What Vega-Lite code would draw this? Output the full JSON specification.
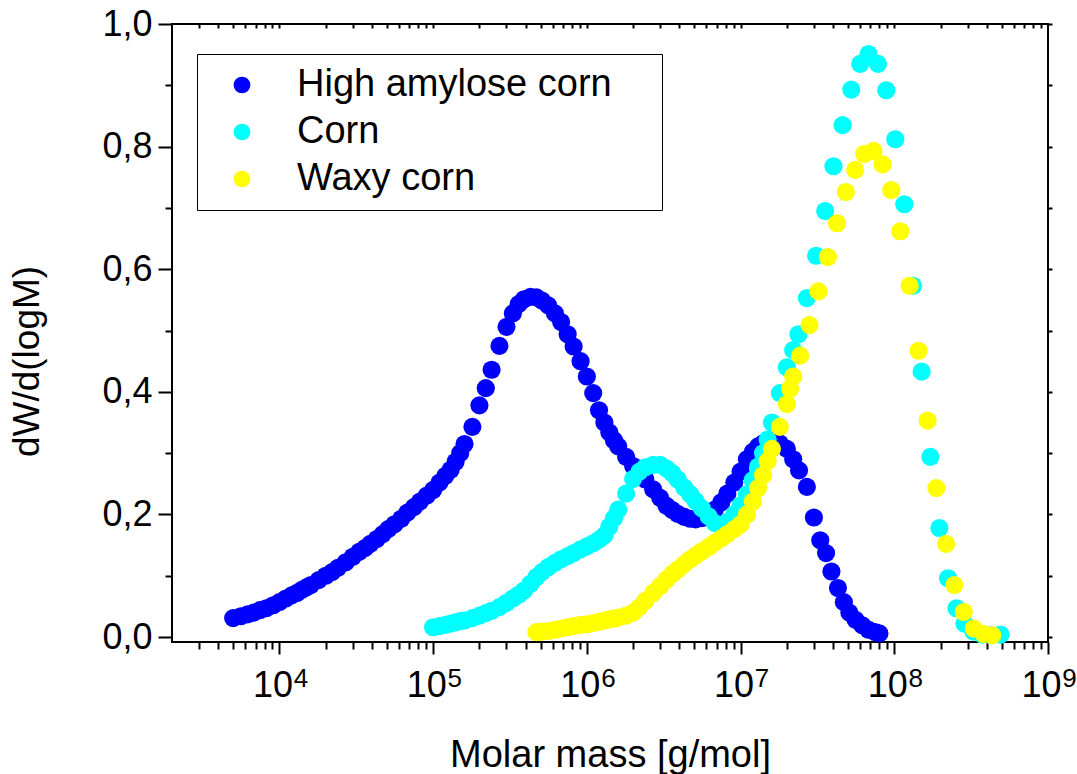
{
"$schema": "https://vega.github.io/schema/vega-lite/v6.json",
"width": 876, "height": 618,
"autosize": {"type": "none"},
"padding": {"left": 172, "top": 24, "right": 29, "bottom": 132},
"background": "white",
"config": {"view": {"stroke": "black", "strokeWidth": 2}, "font": "Liberation Sans",
 "axis": {"grid": false, "domain": false, "labelColor": "black", "tickColor": "black", "tickWidth": 2, "labelFont": "Liberation Sans", "titleFont": "Liberation Sans", "titleColor": "black", "titleFontWeight": "normal", "labelOverlap": false, "labelFlush": false}},
"data": {"values": [
{"s":"High amylose corn","M":5000,"w":0.031},{"s":"High amylose corn","M":5600,"w":0.034},{"s":"High amylose corn","M":6200,"w":0.037},{"s":"High amylose corn","M":6800,"w":0.040},{"s":"High amylose corn","M":7500,"w":0.044},{"s":"High amylose corn","M":8200,"w":0.047},{"s":"High amylose corn","M":9100,"w":0.052},
{"s":"High amylose corn","M":10000,"w":0.057},{"s":"High amylose corn","M":11000,"w":0.063},{"s":"High amylose corn","M":12000,"w":0.068},{"s":"High amylose corn","M":13000,"w":0.072},{"s":"High amylose corn","M":14000,"w":0.077},{"s":"High amylose corn","M":15000,"w":0.081},{"s":"High amylose corn","M":16000,"w":0.085},{"s":"High amylose corn","M":18000,"w":0.093},{"s":"High amylose corn","M":20000,"w":0.100},{"s":"High amylose corn","M":22000,"w":0.106},{"s":"High amylose corn","M":24000,"w":0.113},{"s":"High amylose corn","M":27000,"w":0.122},{"s":"High amylose corn","M":30000,"w":0.131},{"s":"High amylose corn","M":33000,"w":0.139},{"s":"High amylose corn","M":36000,"w":0.145},{"s":"High amylose corn","M":39000,"w":0.152},{"s":"High amylose corn","M":43000,"w":0.160},{"s":"High amylose corn","M":47000,"w":0.168},{"s":"High amylose corn","M":51000,"w":0.176},{"s":"High amylose corn","M":56000,"w":0.184},{"s":"High amylose corn","M":62000,"w":0.193},{"s":"High amylose corn","M":68000,"w":0.203},{"s":"High amylose corn","M":75000,"w":0.212},{"s":"High amylose corn","M":82000,"w":0.221},{"s":"High amylose corn","M":91000,"w":0.231},
{"s":"High amylose corn","M":100000,"w":0.240},{"s":"High amylose corn","M":110000,"w":0.252},{"s":"High amylose corn","M":120000,"w":0.263},{"s":"High amylose corn","M":130000,"w":0.273},{"s":"High amylose corn","M":140000,"w":0.286},{"s":"High amylose corn","M":150000,"w":0.300},{"s":"High amylose corn","M":160000,"w":0.315},{"s":"High amylose corn","M":180000,"w":0.343},{"s":"High amylose corn","M":200000,"w":0.378},{"s":"High amylose corn","M":220000,"w":0.406},{"s":"High amylose corn","M":240000,"w":0.436},{"s":"High amylose corn","M":270000,"w":0.475},{"s":"High amylose corn","M":300000,"w":0.506},{"s":"High amylose corn","M":330000,"w":0.528},{"s":"High amylose corn","M":360000,"w":0.543},{"s":"High amylose corn","M":390000,"w":0.551},{"s":"High amylose corn","M":430000,"w":0.555},{"s":"High amylose corn","M":470000,"w":0.554},{"s":"High amylose corn","M":510000,"w":0.549},{"s":"High amylose corn","M":560000,"w":0.541},{"s":"High amylose corn","M":620000,"w":0.528},{"s":"High amylose corn","M":680000,"w":0.514},{"s":"High amylose corn","M":750000,"w":0.494},{"s":"High amylose corn","M":820000,"w":0.474},{"s":"High amylose corn","M":910000,"w":0.450},
{"s":"High amylose corn","M":1000000,"w":0.425},{"s":"High amylose corn","M":1100000,"w":0.398},{"s":"High amylose corn","M":1200000,"w":0.370},{"s":"High amylose corn","M":1300000,"w":0.350},{"s":"High amylose corn","M":1400000,"w":0.334},{"s":"High amylose corn","M":1500000,"w":0.321},{"s":"High amylose corn","M":1600000,"w":0.311},{"s":"High amylose corn","M":1800000,"w":0.294},{"s":"High amylose corn","M":2000000,"w":0.279},{"s":"High amylose corn","M":2200000,"w":0.268},{"s":"High amylose corn","M":2400000,"w":0.257},{"s":"High amylose corn","M":2700000,"w":0.241},{"s":"High amylose corn","M":3000000,"w":0.227},{"s":"High amylose corn","M":3300000,"w":0.214},{"s":"High amylose corn","M":3600000,"w":0.207},{"s":"High amylose corn","M":3900000,"w":0.201},{"s":"High amylose corn","M":4300000,"w":0.196},{"s":"High amylose corn","M":4700000,"w":0.193},{"s":"High amylose corn","M":5100000,"w":0.192},{"s":"High amylose corn","M":5600000,"w":0.194},{"s":"High amylose corn","M":6200000,"w":0.199},{"s":"High amylose corn","M":6800000,"w":0.208},{"s":"High amylose corn","M":7500000,"w":0.220},{"s":"High amylose corn","M":8200000,"w":0.234},{"s":"High amylose corn","M":9100000,"w":0.252},
{"s":"High amylose corn","M":10000000,"w":0.270},{"s":"High amylose corn","M":11000000,"w":0.290},{"s":"High amylose corn","M":12000000,"w":0.302},{"s":"High amylose corn","M":13000000,"w":0.311},{"s":"High amylose corn","M":14000000,"w":0.316},{"s":"High amylose corn","M":15000000,"w":0.319},{"s":"High amylose corn","M":16000000,"w":0.320},{"s":"High amylose corn","M":18000000,"w":0.316},{"s":"High amylose corn","M":20000000,"w":0.307},{"s":"High amylose corn","M":22000000,"w":0.290},{"s":"High amylose corn","M":24000000,"w":0.272},{"s":"High amylose corn","M":27000000,"w":0.245},{"s":"High amylose corn","M":30000000,"w":0.195},{"s":"High amylose corn","M":33000000,"w":0.158},{"s":"High amylose corn","M":36000000,"w":0.137},{"s":"High amylose corn","M":39000000,"w":0.107},{"s":"High amylose corn","M":43000000,"w":0.080},{"s":"High amylose corn","M":47000000,"w":0.057},{"s":"High amylose corn","M":51000000,"w":0.040},{"s":"High amylose corn","M":56000000,"w":0.028},{"s":"High amylose corn","M":62000000,"w":0.019},{"s":"High amylose corn","M":68000000,"w":0.012},{"s":"High amylose corn","M":75000000,"w":0.008},{"s":"High amylose corn","M":80000000,"w":0.006},
{"s":"Corn","M":100000,"w":0.016},{"s":"Corn","M":110000,"w":0.018},{"s":"Corn","M":120000,"w":0.020},{"s":"Corn","M":130000,"w":0.022},{"s":"Corn","M":140000,"w":0.024},{"s":"Corn","M":150000,"w":0.026},{"s":"Corn","M":160000,"w":0.027},{"s":"Corn","M":180000,"w":0.031},{"s":"Corn","M":200000,"w":0.035},{"s":"Corn","M":220000,"w":0.039},{"s":"Corn","M":240000,"w":0.043},{"s":"Corn","M":270000,"w":0.049},{"s":"Corn","M":300000,"w":0.056},{"s":"Corn","M":330000,"w":0.063},{"s":"Corn","M":360000,"w":0.069},{"s":"Corn","M":390000,"w":0.076},{"s":"Corn","M":430000,"w":0.087},{"s":"Corn","M":470000,"w":0.098},{"s":"Corn","M":510000,"w":0.106},{"s":"Corn","M":560000,"w":0.114},{"s":"Corn","M":620000,"w":0.121},{"s":"Corn","M":680000,"w":0.127},{"s":"Corn","M":750000,"w":0.132},{"s":"Corn","M":820000,"w":0.137},{"s":"Corn","M":910000,"w":0.143},
{"s":"Corn","M":1000000,"w":0.148},{"s":"Corn","M":1100000,"w":0.153},{"s":"Corn","M":1200000,"w":0.159},{"s":"Corn","M":1300000,"w":0.166},{"s":"Corn","M":1400000,"w":0.180},{"s":"Corn","M":1500000,"w":0.194},{"s":"Corn","M":1600000,"w":0.208},{"s":"Corn","M":1800000,"w":0.234},{"s":"Corn","M":2000000,"w":0.258},{"s":"Corn","M":2200000,"w":0.270},{"s":"Corn","M":2400000,"w":0.277},{"s":"Corn","M":2700000,"w":0.281},{"s":"Corn","M":3000000,"w":0.281},{"s":"Corn","M":3300000,"w":0.275},{"s":"Corn","M":3600000,"w":0.267},{"s":"Corn","M":3900000,"w":0.257},{"s":"Corn","M":4300000,"w":0.244},{"s":"Corn","M":4700000,"w":0.233},{"s":"Corn","M":5100000,"w":0.222},{"s":"Corn","M":5600000,"w":0.210},{"s":"Corn","M":6200000,"w":0.197},{"s":"Corn","M":6800000,"w":0.186},{"s":"Corn","M":7500000,"w":0.181},{"s":"Corn","M":8200000,"w":0.188},{"s":"Corn","M":9100000,"w":0.200},
{"s":"Corn","M":10000000,"w":0.215},{"s":"Corn","M":11000000,"w":0.233},{"s":"Corn","M":12000000,"w":0.256},{"s":"Corn","M":13000000,"w":0.278},{"s":"Corn","M":14000000,"w":0.300},{"s":"Corn","M":15000000,"w":0.322},{"s":"Corn","M":16000000,"w":0.350},{"s":"Corn","M":18000000,"w":0.398},{"s":"Corn","M":20000000,"w":0.440},{"s":"Corn","M":22000000,"w":0.468},{"s":"Corn","M":23800000,"w":0.494},{"s":"Corn","M":27000000,"w":0.553},{"s":"Corn","M":31000000,"w":0.622},{"s":"Corn","M":35500000,"w":0.695},{"s":"Corn","M":40200000,"w":0.768},{"s":"Corn","M":46100000,"w":0.835},{"s":"Corn","M":52500000,"w":0.893},{"s":"Corn","M":60000000,"w":0.935},{"s":"Corn","M":68000000,"w":0.951},{"s":"Corn","M":78300000,"w":0.935},{"s":"Corn","M":88700000,"w":0.892},{"s":"Corn","M":101600000,"w":0.812},{"s":"Corn","M":116200000,"w":0.706},{"s":"Corn","M":132400000,"w":0.573},{"s":"Corn","M":150600000,"w":0.433},{"s":"Corn","M":171700000,"w":0.294},{"s":"Corn","M":196500000,"w":0.178},{"s":"Corn","M":224000000,"w":0.096},{"s":"Corn","M":254000000,"w":0.047},{"s":"Corn","M":286000000,"w":0.022},{"s":"Corn","M":327000000,"w":0.009},{"s":"Corn","M":374000000,"w":0.004},{"s":"Corn","M":428000000,"w":0.003},{"s":"Corn","M":491000000,"w":0.004},
{"s":"Waxy corn","M":470000,"w":0.008},{"s":"Waxy corn","M":510000,"w":0.009},{"s":"Waxy corn","M":560000,"w":0.010},{"s":"Waxy corn","M":620000,"w":0.012},{"s":"Waxy corn","M":680000,"w":0.014},{"s":"Waxy corn","M":750000,"w":0.016},{"s":"Waxy corn","M":820000,"w":0.018},{"s":"Waxy corn","M":910000,"w":0.020},
{"s":"Waxy corn","M":1000000,"w":0.021},{"s":"Waxy corn","M":1100000,"w":0.023},{"s":"Waxy corn","M":1200000,"w":0.025},{"s":"Waxy corn","M":1300000,"w":0.027},{"s":"Waxy corn","M":1400000,"w":0.029},{"s":"Waxy corn","M":1500000,"w":0.030},{"s":"Waxy corn","M":1600000,"w":0.032},{"s":"Waxy corn","M":1800000,"w":0.035},{"s":"Waxy corn","M":2000000,"w":0.040},{"s":"Waxy corn","M":2200000,"w":0.049},{"s":"Waxy corn","M":2400000,"w":0.059},{"s":"Waxy corn","M":2700000,"w":0.072},{"s":"Waxy corn","M":3000000,"w":0.083},{"s":"Waxy corn","M":3300000,"w":0.094},{"s":"Waxy corn","M":3600000,"w":0.103},{"s":"Waxy corn","M":3900000,"w":0.110},{"s":"Waxy corn","M":4300000,"w":0.119},{"s":"Waxy corn","M":4700000,"w":0.127},{"s":"Waxy corn","M":5100000,"w":0.133},{"s":"Waxy corn","M":5600000,"w":0.140},{"s":"Waxy corn","M":6200000,"w":0.147},{"s":"Waxy corn","M":6800000,"w":0.154},{"s":"Waxy corn","M":7500000,"w":0.161},{"s":"Waxy corn","M":8200000,"w":0.168},{"s":"Waxy corn","M":9100000,"w":0.176},
{"s":"Waxy corn","M":10000000,"w":0.184},{"s":"Waxy corn","M":11000000,"w":0.200},{"s":"Waxy corn","M":12000000,"w":0.221},{"s":"Waxy corn","M":13000000,"w":0.243},{"s":"Waxy corn","M":14000000,"w":0.264},{"s":"Waxy corn","M":15000000,"w":0.287},{"s":"Waxy corn","M":16000000,"w":0.307},{"s":"Waxy corn","M":18000000,"w":0.343},{"s":"Waxy corn","M":20000000,"w":0.380},{"s":"Waxy corn","M":21000000,"w":0.405},{"s":"Waxy corn","M":22000000,"w":0.425},{"s":"Waxy corn","M":24400000,"w":0.459},{"s":"Waxy corn","M":28100000,"w":0.509},{"s":"Waxy corn","M":32100000,"w":0.564},{"s":"Waxy corn","M":37000000,"w":0.620},{"s":"Waxy corn","M":42400000,"w":0.675},{"s":"Waxy corn","M":48400000,"w":0.726},{"s":"Waxy corn","M":55700000,"w":0.762},{"s":"Waxy corn","M":63700000,"w":0.788},{"s":"Waxy corn","M":73300000,"w":0.793},{"s":"Waxy corn","M":83900000,"w":0.771},{"s":"Waxy corn","M":95700000,"w":0.729},{"s":"Waxy corn","M":109400000,"w":0.662},{"s":"Waxy corn","M":125900000,"w":0.573},{"s":"Waxy corn","M":143900000,"w":0.467},{"s":"Waxy corn","M":164800000,"w":0.353},{"s":"Waxy corn","M":187900000,"w":0.243},{"s":"Waxy corn","M":217300000,"w":0.152},{"s":"Waxy corn","M":246000000,"w":0.085},{"s":"Waxy corn","M":283100000,"w":0.041},{"s":"Waxy corn","M":328900000,"w":0.014},{"s":"Waxy corn","M":381900000,"w":0.005},{"s":"Waxy corn","M":433500000,"w":0.003}
]},
"layer": [
 {"mark": {"type": "point", "filled": true, "opacity": 1, "size": 330, "shape": "circle", "strokeWidth": 0},
  "encoding": {
   "x": {"field": "M", "type": "quantitative", "scale": {"type": "log", "domain": [2000, 1000000000], "nice": false},
    "axis": {"orient": "bottom", "values": [10000, 100000, 1000000, 10000000, 100000000, 1000000000], "labelExpr": "'10'", "tickSize": 12, "labelFontSize": 36, "labelPadding": 14, "labelOffset": -7, "title": "Molar mass [g/mol]", "titleFontSize": 38, "titleBaseline": "alphabetic", "titleX": 438, "titleY": 124}},
   "y": {"field": "w", "type": "quantitative", "scale": {"domain": [-0.008, 1], "nice": false, "zero": false},
    "axis": {"orient": "left", "values": [0, 0.2, 0.4, 0.6, 0.8, 1], "labelExpr": "replace(format(datum.value, '.1f'), '.', ',')", "tickSize": 14, "labelPadding": 6, "labelFontSize": 36, "title": "dW/d(logM)", "titleFontSize": 37, "titleAngle": 270, "titleBaseline": "alphabetic", "titleAlign": "center", "titleX": -134, "titleY": 337}},
   "color": {"field": "s", "type": "nominal", "scale": {"domain": ["High amylose corn", "Corn", "Waxy corn"], "range": ["#0000ff", "#00ffff", "#ffff00"]},
    "legend": {"orient": "none", "legendX": 25, "legendY": 30, "title": "\u00a0", "titleOrient": "right", "titleAngle": 0, "titleFontSize": 10, "titlePadding": 38, "titleColor": "white", "fillColor": "white", "strokeColor": "black", "padding": 12, "symbolType": "circle", "symbolSize": 280, "symbolStrokeWidth": 0, "symbolOffset": 14, "labelFontSize": 38, "labelFont": "Liberation Sans", "labelColor": "black", "labelLimit": 800, "labelOffset": 36, "rowPadding": 9}}
  }},
 {"mark": {"type": "point", "opacity": 0},
  "encoding": {
   "x": {"field": "M", "type": "quantitative", "scale": {"type": "log", "domain": [2000, 1000000000], "nice": false},
    "axis": {"orient": "bottom", "values": [3000,4000,5000,6000,7000,8000,9000,20000,30000,40000,50000,60000,70000,80000,90000,200000,300000,400000,500000,600000,700000,800000,900000,2000000,3000000,4000000,5000000,6000000,7000000,8000000,9000000,20000000,30000000,40000000,50000000,60000000,70000000,80000000,90000000,200000000,300000000,400000000,500000000,600000000,700000000,800000000,900000000], "labels": false, "tickSize": 7, "title": null}},
   "y": {"field": "w", "type": "quantitative", "scale": {"domain": [-0.008, 1], "nice": false, "zero": false},
    "axis": {"orient": "left", "values": [0.1, 0.3, 0.5, 0.7, 0.9], "labels": false, "tickSize": 7, "title": null}}
  }},
 {"mark": {"type": "point", "opacity": 0},
  "encoding": {
   "x": {"field": "M", "type": "quantitative", "scale": {"type": "log", "domain": [2000, 1000000000], "nice": false},
    "axis": {"orient": "bottom", "values": [10000, 100000, 1000000, 10000000, 100000000, 1000000000], "labelExpr": "format(log(datum.value) / LN10, '.0f')", "tickSize": 12, "tickOpacity": 0, "labelFontSize": 26, "labelPadding": 11, "labelOffset": 21, "title": null}},
   "y": {"field": "w", "type": "quantitative", "scale": {"domain": [-0.008, 1], "nice": false, "zero": false},
    "axis": {"orient": "right", "values": [0, 0.1, 0.2, 0.3, 0.4, 0.5, 0.6, 0.7, 0.8, 0.9, 1], "labels": false, "tickSize": 4, "title": null}}
  }},
 {"mark": {"type": "point", "opacity": 0},
  "encoding": {
   "x": {"field": "M", "type": "quantitative", "scale": {"type": "log", "domain": [2000, 1000000000], "nice": false},
    "axis": {"orient": "top", "values": [3000,4000,5000,6000,7000,8000,9000,10000,20000,30000,40000,50000,60000,70000,80000,90000,100000,200000,300000,400000,500000,600000,700000,800000,900000,1000000,2000000,3000000,4000000,5000000,6000000,7000000,8000000,9000000,10000000,20000000,30000000,40000000,50000000,60000000,70000000,80000000,90000000,100000000,200000000,300000000,400000000,500000000,600000000,700000000,800000000,900000000], "labels": false, "tickSize": -4, "title": null}},
   "y": {"field": "w", "type": "quantitative", "scale": {"domain": [-0.008, 1], "nice": false, "zero": false}, "axis": null}
  }}
],
"resolve": {"axis": {"x": "independent", "y": "independent"}}
}
